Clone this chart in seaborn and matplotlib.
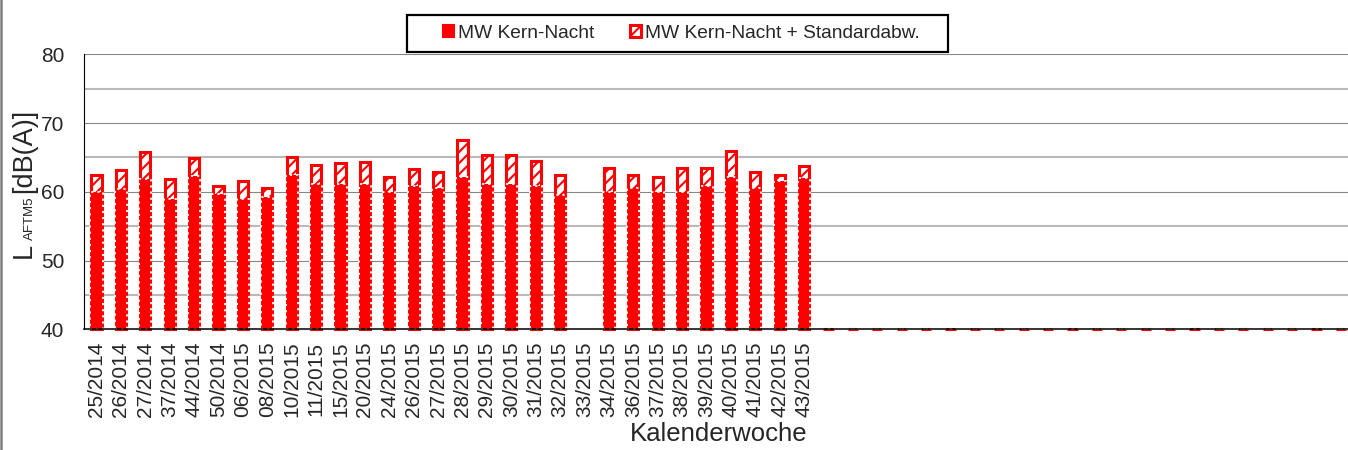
import numpy as np
import pandas as pd
import matplotlib
matplotlib.use("Agg")
import matplotlib.pyplot as plt
import seaborn as sns
from matplotlib.ticker import MultipleLocator
from matplotlib.patches import Rectangle, Patch
from matplotlib.lines import Line2D

sns.set_style("white")
plt.rcParams['font.family'] = ['Liberation Sans', 'DejaVu Sans']
plt.rcParams['hatch.linewidth'] = 1.5

# Kalenderwochen mit Messwerten
weeks = ["25/2014", "26/2014", "27/2014", "37/2014", "44/2014", "50/2014",
         "06/2015", "08/2015", "10/2015", "11/2015", "15/2015", "20/2015",
         "24/2015", "26/2015", "27/2015", "28/2015", "29/2015", "30/2015",
         "31/2015", "32/2015", "33/2015", "34/2015", "36/2015", "37/2015",
         "38/2015", "39/2015", "40/2015", "41/2015", "42/2015", "43/2015"]
# Mittelwert Kern-Nacht [dB(A)]
mw = [60.0, 60.4, 61.8, 58.9, 62.3, 59.7, 59.0, 59.3, 62.4, 61.1,
      61.2, 61.2, 60.0, 60.8, 60.5, 62.2, 61.1, 61.1, 60.8, 59.6,
      np.nan, 60.0, 60.6, 59.9, 60.0, 60.8, 62.2, 60.5, 61.5, 62.0]
# Standardabweichung [dB]
sd = [2.4, 2.7, 4.0, 2.9, 2.6, 1.1, 2.6, 1.2, 2.7, 2.8,
      3.0, 3.2, 2.1, 2.5, 2.4, 5.4, 4.2, 4.3, 3.7, 2.9,
      np.nan, 3.5, 1.8, 2.3, 3.5, 2.6, 3.7, 2.4, 1.0, 1.7]
n_empty = 22          # leere Plätze rechts (noch keine Messung)
empty_level = 40.0
y_min, y_max = 40, 80

n_slots = len(weeks) + n_empty
tick_labels = weeks + [""] * n_empty

df = pd.DataFrame({
    "pos": np.arange(n_slots),
    "mw": mw + [empty_level] * n_empty,
    "sd": sd + [0.0] * n_empty,
})
df["top"] = df["mw"] + df["sd"]
# Balken starten bei y_min (wie in Excel)
df["mw_h"] = df["mw"] - y_min
df["top_h"] = df["top"] - y_min

W, H = 1348, 450
fig = plt.figure(figsize=(W / 100, H / 100), dpi=100)
ax = fig.add_axes([84.3 / W, 1 - 329.3 / H, n_slots * 24.4 / W, 275 / H])

order = list(range(n_slots))
sns.barplot(data=df, x="pos", y="top_h", order=order, ax=ax, width=0.42,
            saturation=1, color="red", facecolor="white", edgecolor="red",
            hatch="///", linewidth=2.2, bottom=y_min, clip_on=False,
            errorbar=None)
sns.barplot(data=df, x="pos", y="mw_h", order=order, ax=ax, width=0.5,
            saturation=1, color="red", facecolor="red", edgecolor="white",
            linestyle=(0, (1.2, 2.2)), linewidth=1.3, bottom=y_min,
            clip_on=False, errorbar=None)
h_sd = ax.containers[0]
h_mw = Patch(facecolor="red", edgecolor="red", linewidth=1.5)

ax.set_ylim(y_min, y_max)
ax.set_xlim(-0.5, n_slots - 0.5)
ax.yaxis.set_major_locator(MultipleLocator(10))
ax.yaxis.set_minor_locator(MultipleLocator(5))
ax.set_axisbelow(True)
ax.grid(False)
ax.yaxis.grid(True, which="major", color="#868686", linewidth=0.8)
ax.yaxis.grid(True, which="minor", color="#b9b9b9", linewidth=1.5)
ax.tick_params(axis="y", which="major", direction="out", length=4.5,
               width=0.8, color="black", labelsize=15, pad=10)
ax.tick_params(axis="y", which="minor", length=0)

ax.set_xticks(order)
ax.set_xticklabels(tick_labels, rotation=90)
ax.set_xticks(np.arange(-0.5, n_slots, 1), minor=True)
ax.tick_params(axis="x", which="major", length=0, labelsize=15, pad=9)
ax.tick_params(axis="x", which="minor", direction="out", length=4,
               width=0.8, color="#6e6e6e")
ax.set_xlabel("Kalenderwoche", fontsize=18.5, labelpad=3)
ax.set_ylabel("")

for s in ["top", "right"]:
    ax.spines[s].set_visible(False)
ax.spines["left"].set_color("black")
ax.spines["left"].set_linewidth(0.8)
ax.spines["bottom"].set_color("black")
ax.spines["bottom"].set_linewidth(1.1)

# y-Beschriftung L_AFTM5 [dB(A)] mit kleinem Index
ylab = dict(rotation=90, rotation_mode="anchor", ha="left", va="baseline")
fig.text(31 / W, 1 - 258 / H, "L", fontsize=19.5, **ylab)
fig.text(32.5 / W, 1 - 240 / H, "AFTM5", fontsize=9.5, **ylab)
fig.text(31 / W, 1 - 193 / H, "[dB(A)]", fontsize=19.5, **ylab)

# Legende mit eigenem Rahmen
fig.legend([h_mw, h_sd], ["MW Kern-Nacht", "MW Kern-Nacht + Standardabw."],
           loc="center", bbox_to_anchor=(681.5 / W, 1 - 33.2 / H), ncol=2,
           frameon=False, fontsize=13.8, handlelength=0.55, handleheight=0.55,
           handletextpad=0.2, columnspacing=1.9, borderpad=0)
fig.add_artist(Rectangle((407 / W, 1 - 51.7 / H), 541 / W, 37 / H,
                         transform=fig.transFigure, fill=False,
                         edgecolor="black", linewidth=1.6))
fig.add_artist(Line2D([0.0008, 0.0008], [0, 1], transform=fig.transFigure,
                      color="#7f7f7f", linewidth=1.8))

fig.savefig("out.png", dpi=100)
